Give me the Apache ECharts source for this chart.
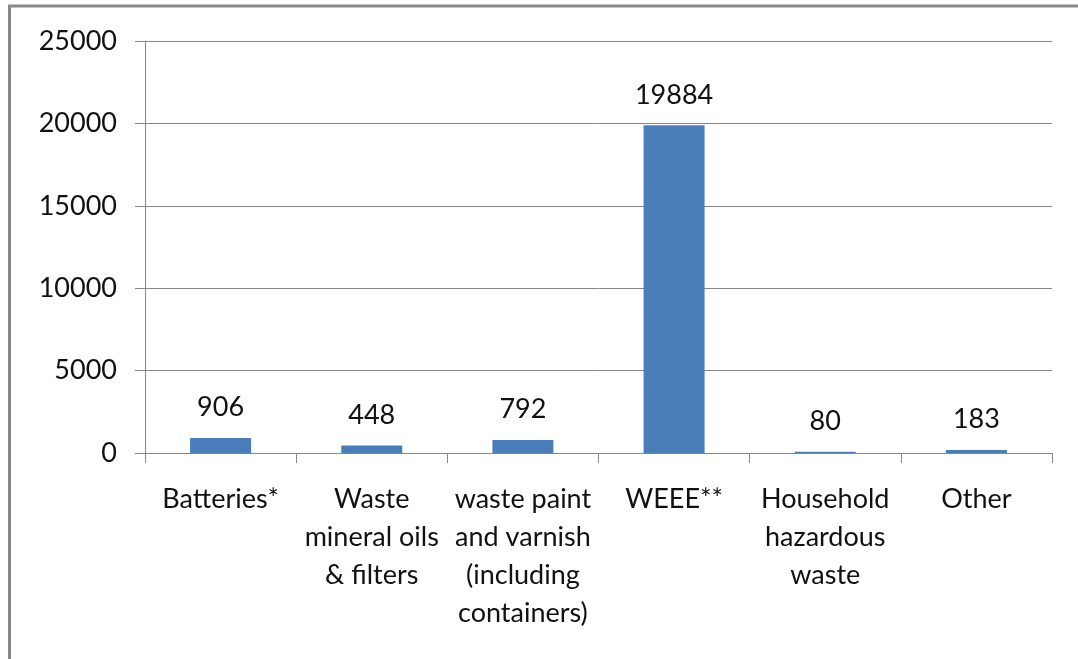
<!DOCTYPE html>
<html>
<head>
<meta charset="utf-8">
<script src="https://cdn.jsdelivr.net/npm/echarts@6/dist/echarts.min.js"></script>
<style>
  html, body { margin: 0; padding: 0; background: #fff; }
  #chart { width: 1078px; height: 659px; }
</style>
</head>
<body>
<div id="chart"></div>
<script>
// Hazardous waste streams collected (tonnes)
const categories = [
  'Batteries*',
  'Waste\nmineral oils\n& filters',
  'waste paint\nand varnish\n(including\ncontainers)',
  'WEEE**',
  'Household\nhazardous\nwaste',
  'Other'
];
const tonnes = [906, 448, 792, 19884, 80, 183];
const yTicks = { min: 0, max: 25000, interval: 5000 };

const axisGray = '#868686';
const textColor = '#111111';
const textFont = 'Lato, "Open Sans", sans-serif';
const textSize = 27;

const chart = echarts.init(document.getElementById('chart'), null, { renderer: 'canvas' });
chart.setOption({
  animation: false,
  backgroundColor: '#ffffff',
  graphic: [
    // outer frame: top and left edges
    { type: 'line', shape: { x1: 8, y1: 6, x2: 1078, y2: 6 }, style: { stroke: '#898989', lineWidth: 3 } },
    { type: 'line', shape: { x1: 9.5, y1: 5, x2: 9.5, y2: 659 }, style: { stroke: '#898989', lineWidth: 3 } }
  ],
  grid: { left: 145, right: 26, top: 41, bottom: 206, containLabel: false },
  xAxis: {
    type: 'category',
    data: categories,
    boundaryGap: true,
    z: 3,
    axisLine: { show: true, lineStyle: { color: axisGray, width: 1 } },
    axisTick: { show: true, length: 10, alignWithLabel: false, lineStyle: { color: axisGray } },
    axisLabel: {
      interval: 0,
      margin: 27,
      color: textColor,
      fontFamily: textFont,
      fontSize: textSize,
      lineHeight: 38,
      align: 'center'
    }
  },
  yAxis: {
    type: 'value',
    min: yTicks.min,
    max: yTicks.max,
    interval: yTicks.interval,
    axisLine: { show: true, lineStyle: { color: axisGray, width: 1 } },
    axisTick: { show: true, length: 10, lineStyle: { color: axisGray } },
    splitLine: { show: true, lineStyle: { color: axisGray, width: 1 } },
    axisLabel: {
      margin: 28,
      color: textColor,
      fontFamily: textFont,
      fontSize: textSize,
      formatter: (v) => String(v)
    }
  },
  series: [{
    type: 'bar',
    data: tonnes,
    barWidth: 61,
    itemStyle: { color: '#4a7ebb' },
    label: {
      show: true,
      position: 'top',
      distance: 17,
      color: textColor,
      fontFamily: textFont,
      fontSize: textSize
    }
  }]
});
</script>
</body>
</html>
